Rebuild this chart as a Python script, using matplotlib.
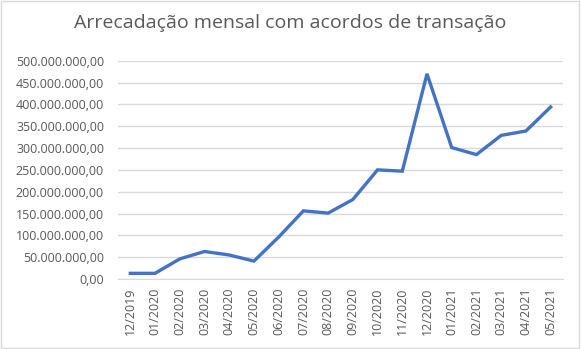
import matplotlib
matplotlib.use("Agg")
import matplotlib.pyplot as plt
from matplotlib.ticker import FuncFormatter, MultipleLocator
from matplotlib.patches import Rectangle

# meses e arrecadação (R$)
meses = ['12/2019', '01/2020', '02/2020', '03/2020', '04/2020', '05/2020',
         '06/2020', '07/2020', '08/2020', '09/2020', '10/2020', '11/2020',
         '12/2020', '01/2021', '02/2021', '03/2021', '04/2021', '05/2021']
arrecadacao = [13e6, 13e6, 46e6, 63e6, 55e6, 41e6,
               96e6, 156e6, 151e6, 182e6, 250e6, 247e6,
               470e6, 301e6, 285e6, 329e6, 339e6, 394e6]

cinza = '#595959'
plt.rcParams['font.family'] = ['Open Sans', 'DejaVu Sans']

fig = plt.figure(figsize=(5.81, 3.49), dpi=100)
ax = fig.add_axes([0.203, 0.2006, 0.766, 0.6254])

ax.plot(range(len(meses)), arrecadacao, color='#4472C4', linewidth=2.4, solid_joinstyle='miter')

def fmt_br(v, pos):
    s = f'{v:,.2f}'
    return s.replace(',', 'X').replace('.', ',').replace('X', '.')

ax.set_ylim(0, 500e6)
ax.yaxis.set_major_locator(MultipleLocator(50e6))
ax.yaxis.set_major_formatter(FuncFormatter(fmt_br))
ax.set_xlim(-0.5, len(meses) - 0.5)
ax.set_xticks(range(len(meses)))
ax.set_xticklabels(meses, rotation=90)

ax.grid(axis='y', color='#d9d9d9', linewidth=1)
ax.set_axisbelow(True)
for s in ['top', 'right', 'left']:
    ax.spines[s].set_visible(False)
ax.spines['bottom'].set_color('#d9d9d9')
ax.tick_params(axis='both', length=0, colors=cinza, labelsize=9)
ax.tick_params(axis='y', pad=10)
ax.tick_params(axis='x', pad=6)

fig.text(0.5, 0.935, 'Arrecadação mensal com acordos de transação', ha='center', va='center',
         fontsize=14, color=cinza)

fig.patches.append(Rectangle((0.002, 0.003), 0.995, 0.993, transform=fig.transFigure,
                             fill=False, edgecolor='#d9d9d9', linewidth=1))

fig.savefig('out.png', dpi=100)
